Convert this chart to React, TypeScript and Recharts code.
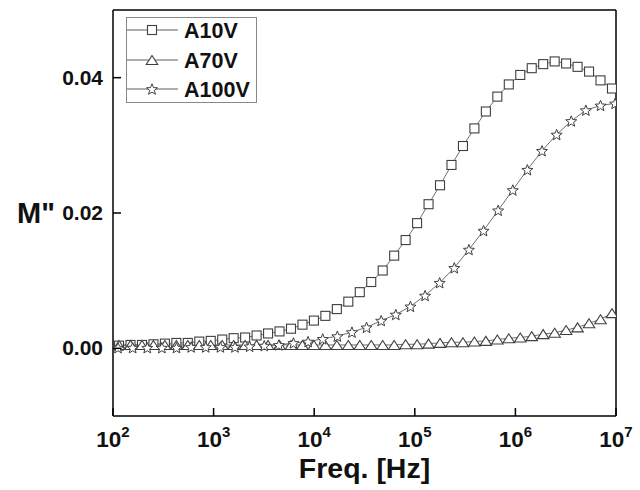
import React from 'react';
import { LineChart, Line, XAxis, YAxis, Legend, ReferenceLine } from 'recharts';

const FONT = "'Liberation Sans', Arial, Helvetica, sans-serif";

// Frequencies (Hz) for A10V and A70V
const freqA: number[] = [114.8, 149.3, 194.1, 252.3, 328.0, 426.4, 554.2, 720.5, 936.7, 1218, 1583, 2058, 2676, 3478, 4522, 5879, 7642, 9935, 12916, 16792, 21830, 28380, 36890, 47960, 62350, 81060, 105400, 137000, 178100, 231500, 301000, 391300, 508700, 661300, 859800, 1118000, 1453000, 1889000, 2456000, 3192000, 4150000, 5395000, 7014000, 9118000];
const a10V: number[] = [0.0004, 0.0005, 0.0005, 0.0006, 0.0007, 0.0008, 0.0008, 0.0010, 0.0011, 0.0013, 0.0015, 0.0016, 0.0019, 0.0022, 0.0025, 0.0029, 0.0035, 0.0041, 0.0048, 0.0058, 0.0069, 0.0083, 0.0098, 0.0115, 0.0137, 0.0160, 0.0185, 0.0213, 0.0241, 0.0271, 0.0299, 0.0325, 0.0350, 0.0372, 0.0390, 0.0404, 0.0414, 0.0420, 0.0424, 0.0421, 0.0416, 0.0409, 0.0396, 0.0384];
const a70V: number[] = [0.0005, 0.0005, 0.0005, 0.0005, 0.0005, 0.0005, 0.0005, 0.0005, 0.0005, 0.0005, 0.0005, 0.0005, 0.0005, 0.0005, 0.0005, 0.0005, 0.0005, 0.0005, 0.0005, 0.0005, 0.0005, 0.0005, 0.0005, 0.0005, 0.0005, 0.0006, 0.0006, 0.0007, 0.0008, 0.0009, 0.0009, 0.0010, 0.0011, 0.0013, 0.0015, 0.0016, 0.0018, 0.0021, 0.0023, 0.0027, 0.0031, 0.0037, 0.0043, 0.0052];

// Frequencies (Hz) for A100V
const freqB: number[] = [112.2, 156.8, 219.1, 306.2, 427.9, 597.9, 835.6, 1168, 1631, 2280, 3187, 4453, 6223, 8696, 12150, 16980, 23730, 33160, 46340, 64760, 90500, 126500, 176700, 247000, 345100, 482300, 673900, 941700, 1316000, 1839000, 2570000, 3591000, 5018000, 7014000, 9800000];
const a100V: number[] = [0.0001, 0.0001, 0.0001, 0.0001, 0.0001, 0.0002, 0.0002, 0.0002, 0.0002, 0.0003, 0.0004, 0.0005, 0.0008, 0.0010, 0.0014, 0.0018, 0.0024, 0.0031, 0.0041, 0.0050, 0.0062, 0.0078, 0.0097, 0.0119, 0.0146, 0.0174, 0.0204, 0.0234, 0.0264, 0.0292, 0.0316, 0.0336, 0.0352, 0.0359, 0.0362];

const xTicks: number[] = [100, 1000, 10000, 100000, 1000000, 10000000];
const yTicks: number[] = [0, 0.02, 0.04];
const xDomain: [number, number] = [100, 10000000];
const yDomain: [number, number] = [-0.01, 0.05];
const seriesNames: string[] = ['A10V', 'A70V', 'A100V'];

const dataA10 = freqA.map((f, i) => ({ f, m: a10V[i] }));
const dataA70 = freqA.map((f, i) => ({ f, m: a70V[i] }));
const dataA100 = freqB.map((f, i) => ({ f, m: a100V[i] }));

const MSTROKE = '#3f3f3f';
const LSTROKE = '#4a4a4a';

function SquareMark({ cx, cy }: { cx: number; cy: number }) {
  return <rect x={cx - 4.5} y={cy - 4.5} width={9} height={9} fill="#fff" stroke={MSTROKE} strokeWidth={1.1} />;
}
function TriMark({ cx, cy }: { cx: number; cy: number }) {
  const h = 9, w = 11.5;
  return <polygon points={`${cx},${cy - h / 2} ${cx + w / 2},${cy + h / 2} ${cx - w / 2},${cy + h / 2}`} fill="#fff" stroke={MSTROKE} strokeWidth={1.1} strokeLinejoin="miter" />;
}
function StarMark({ cx, cy }: { cx: number; cy: number }) {
  const R = 5.8, r = 2.5;
  const pts: string[] = [];
  for (let k = 0; k < 10; k++) {
    const ang = -Math.PI / 2 + (k * Math.PI) / 5;
    const rad = k % 2 === 0 ? R : r;
    pts.push(`${(cx + rad * Math.cos(ang)).toFixed(2)},${(cy + rad * Math.sin(ang) + 0.6).toFixed(2)}`);
  }
  return <polygon points={pts.join(' ')} fill="#fff" stroke={MSTROKE} strokeWidth={1} />;
}

const markers = [SquareMark, TriMark, StarMark];

function XTick(props: any) {
  const { x, y, payload } = props;
  const exp = Math.round(Math.log10(payload.value));
  return (
    <g>
      <line x1={x} x2={x} y1={y} y2={y - 8} stroke="#000" strokeWidth={1.5} />
      <text x={x} y={y + 31} textAnchor="middle" fontFamily={FONT} fontWeight="bold" fontSize={22.5} fill="#111">
        <tspan>10</tspan>
        <tspan dy={-10} fontSize={15}>{exp}</tspan>
      </text>
    </g>
  );
}

function YTick(props: any) {
  const { x, y, payload } = props;
  return (
    <g>
      <line x1={x} x2={x + 8} y1={y} y2={y} stroke="#000" strokeWidth={1.5} />
      <text x={x - 10} y={y + 7} textAnchor="end" fontFamily={FONT} fontWeight="bold" fontSize={21} fill="#111">
        {Number(payload.value).toFixed(2)}
      </text>
    </g>
  );
}

function LegendBox() {
  const rows = [13, 43, 72];
  return (
    <svg width={132} height={87} style={{ display: 'block' }}>
      <rect x={0.5} y={0.5} width={130} height={85} fill="#fff" stroke="#888" strokeWidth={1} />
      {seriesNames.map((name, i) => {
        const M = markers[i];
        return (
          <g key={name}>
            <line x1={1} x2={52} y1={rows[i]} y2={rows[i]} stroke={LSTROKE} strokeWidth={0.9} />
            <M cx={26} cy={rows[i]} />
            <text x={58} y={rows[i] + 7.5} fontFamily={FONT} fontWeight="bold" fontSize={21.5} fill="#111">{name}</text>
          </g>
        );
      })}
    </svg>
  );
}

export default function App() {
  const dot = (M: any) => (p: any) => <M key={`d-${p.index}`} cx={p.cx} cy={p.cy} />;
  return (
    <div style={{ position: 'absolute', left: 0, top: 0, width: 640, height: 490, background: '#fff' }}>
      <LineChart width={640} height={490} margin={{ top: 10, right: 24, left: 0, bottom: 0 }}>
        <XAxis
          dataKey="f"
          type="number"
          scale="log"
          domain={xDomain}
          ticks={xTicks}
          allowDataOverflow
          height={74}
          tickSize={0}
          tickMargin={0}
          tickLine={false}
          axisLine={{ stroke: '#000', strokeWidth: 1.5 }}
          tick={<XTick />}
          interval={0}
          label={(props: any) => {
            const vb = props.viewBox;
            return (
              <text x={vb.x + vb.width / 2} y={vb.y + 62} textAnchor="middle" fontFamily={FONT} fontWeight="bold" fontSize={28.5} fill="#111">
                Freq. [Hz]
              </text>
            );
          }}
        />
        <YAxis
          type="number"
          domain={yDomain}
          ticks={yTicks}
          allowDataOverflow
          width={113}
          tickSize={0}
          tickMargin={0}
          tickLine={false}
          axisLine={{ stroke: '#000', strokeWidth: 1.5 }}
          tick={<YTick />}
          interval={0}
          label={(props: any) => {
            const vb = props.viewBox;
            return (
              <text x={vb.x + 17} y={vb.y + vb.height / 2 + 10} fontFamily={FONT} fontWeight="bold" fontSize={29} fill="#111">
                M"
              </text>
            );
          }}
        />
        <ReferenceLine y={yDomain[1]} stroke="#000" strokeWidth={1.5} ifOverflow="visible" />
        <ReferenceLine x={xDomain[1]} stroke="#000" strokeWidth={1.5} ifOverflow="visible" />
        <Legend
          layout="horizontal"
          verticalAlign="middle"
          align="center"
          wrapperStyle={{ position: 'absolute', left: 126, top: 17, width: 132, height: 87 }}
          content={() => <LegendBox />}
        />
        <Line data={dataA10} dataKey="m" name="A10V" stroke={LSTROKE} strokeWidth={0.8} dot={dot(SquareMark)} activeDot={false} isAnimationActive={false} />
        <Line data={dataA70} dataKey="m" name="A70V" stroke={LSTROKE} strokeWidth={0.8} dot={dot(TriMark)} activeDot={false} isAnimationActive={false} />
        <Line data={dataA100} dataKey="m" name="A100V" stroke={LSTROKE} strokeWidth={0.8} dot={dot(StarMark)} activeDot={false} isAnimationActive={false} />
      </LineChart>
    </div>
  );
}
